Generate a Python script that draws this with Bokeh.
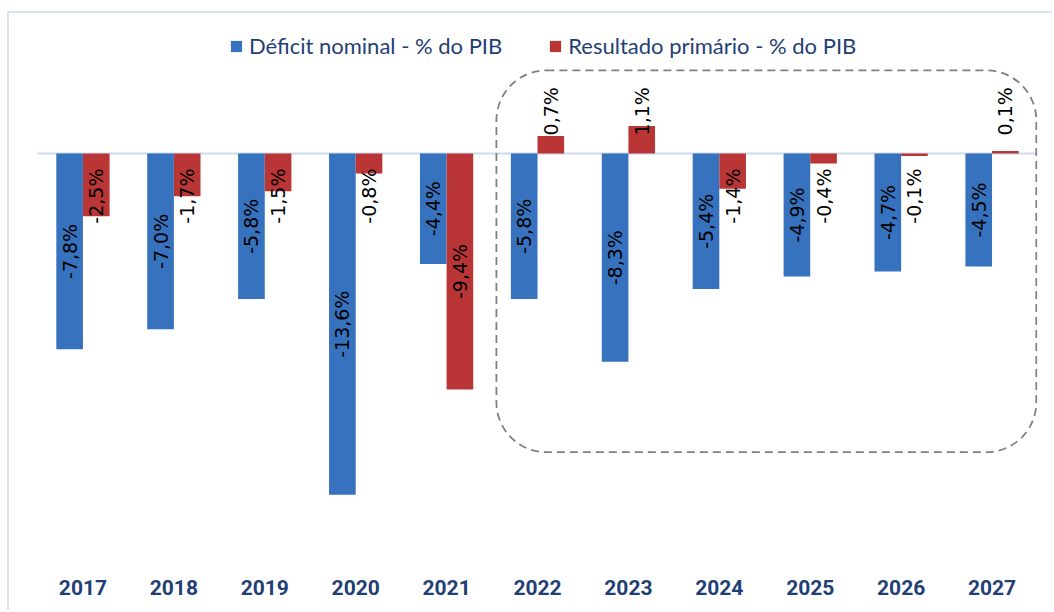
import math
from bokeh.plotting import figure
from bokeh.models import Range1d, FixedTicker, Span, Legend, LegendItem, ColumnDataSource
from bokeh.core.properties import value
from bokeh.embed import file_html
from bokeh.resources import INLINE

# ---- data ----
years = ["2017", "2018", "2019", "2020", "2021", "2022", "2023", "2024", "2025", "2026", "2027"]
deficit_nominal = [-7.8, -7.0, -5.8, -13.6, -4.4, -5.8, -8.3, -5.4, -4.9, -4.7, -4.5]
resultado_primario = [-2.5, -1.7, -1.5, -0.8, -9.4, 0.7, 1.1, -1.4, -0.4, -0.1, 0.1]
series_names = ["Déficit nominal - % do PIB", "Resultado primário - % do PIB"]
projection_years = ["2022", "2027"]

# ---- style ----
BLUE = "#3772BE"
RED = "#BA3636"
NAVY = "#1F3F75"
BAR_W = 0.293
OFF = BAR_W / 2

p = figure(width=1045, height=599, output_backend="svg", toolbar_location=None,
           x_range=Range1d(-0.5, 10.5), y_range=Range1d(-16.215, 5.299),
           min_border_left=28, min_border_right=17, min_border_top=7, min_border_bottom=52)
p.styles = {"margin-left": "7px", "margin-top": "11px",
            "border-left": "2px solid #D6E3F3", "border-top": "2px solid #D6E3F3"}
p.outline_line_color = None
p.xgrid.visible = False
p.ygrid.visible = False
p.yaxis.visible = False

xs = list(range(len(years)))

# zero line
p.add_layout(Span(location=0, dimension="width", line_color="#C9DAF0", line_width=2, level="underlay"))

# dashed rounded box around projection years
i0 = years.index(projection_years[0])
i1 = years.index(projection_years[1])
p.quad(left=[i0 - 0.452], right=[i1 + 0.487], top=[3.31], bottom=[-11.9],
       fill_color=None, line_color="#808080", line_dash="8 5", line_width=1.8,
       border_radius=50)

src_b = ColumnDataSource(dict(x=[i - OFF for i in xs], top=deficit_nominal))
src_r = ColumnDataSource(dict(x=[i + OFF for i in xs], top=resultado_primario))
rb = p.vbar(x="x", top="top", bottom=0, width=BAR_W, source=src_b,
            fill_color=BLUE, line_color=None)
rr = p.vbar(x="x", top="top", bottom=0, width=BAR_W, source=src_r,
            fill_color=RED, line_color=None)

# data labels
def fmt(v):
    return f"{v:.1f}%".replace(".", ",")

lab = dict(center=dict(x=[], y=[], t=[]), base=dict(x=[], y=[], t=[]), pos=dict(x=[], y=[], t=[]))
for vals, off in ((deficit_nominal, -OFF), (resultado_primario, OFF)):
    for i, v in enumerate(vals):
        if v >= 0:
            k = "pos"; yy = 0.72
        elif abs(v) >= 4:
            k = "center"; yy = v / 2
        else:
            k = "base"; yy = -0.6
        lab[k]["x"].append(i + off); lab[k]["y"].append(yy); lab[k]["t"].append(fmt(v))

common = dict(angle=math.pi / 2, text_font=value("DejaVu Sans"), text_font_size="19px",
              text_color="#000000", text_baseline="middle")
p.text(x="x", y="y", text="t", source=ColumnDataSource(lab["center"]), text_align="center", **common)
p.text(x="x", y="y", text="t", source=ColumnDataSource(lab["base"]), text_align="right", **common)
p.text(x="x", y="y", text="t", source=ColumnDataSource(lab["pos"]), text_align="left", **common)

# x axis
ax = p.xaxis[0]
ax.ticker = FixedTicker(ticks=xs)
ax.major_label_overrides = {i: y for i, y in enumerate(years)}
ax.axis_line_color = None
ax.major_tick_line_color = None
ax.minor_tick_line_color = None
ax.major_label_standoff = 13
ax.major_label_text_font = "Roboto"
ax.major_label_text_font_style = "bold"
ax.major_label_text_font_size = "21px"
ax.major_label_text_color = NAVY

# legend
legend = Legend(items=[LegendItem(label=series_names[0], renderers=[rb]),
                       LegendItem(label=series_names[1], renderers=[rr])],
                orientation="horizontal", location=(192, 501),
                border_line_color=None, background_fill_alpha=0,
                padding=0, margin=0, spacing=46, label_standoff=6,
                glyph_width=14, glyph_height=14,
                label_text_font="Lato", label_text_font_size="22px",
                label_text_color=NAVY)
p.add_layout(legend)

open("out.html", "w").write(file_html(p, INLINE))
